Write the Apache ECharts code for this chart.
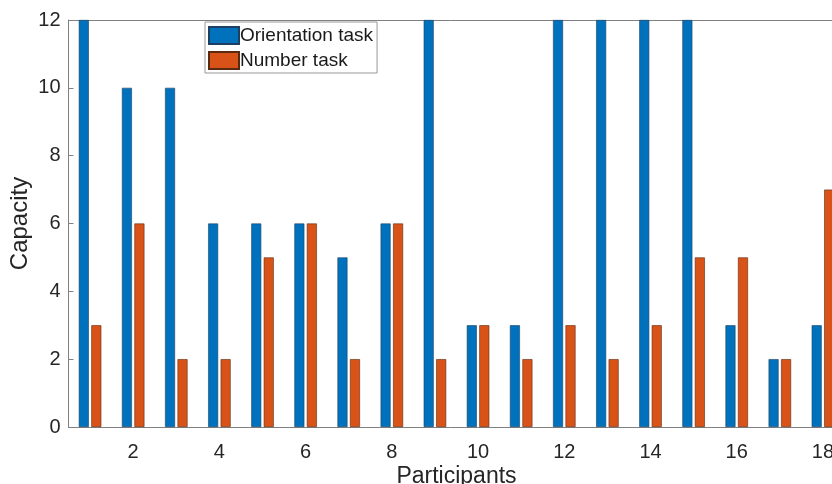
<!DOCTYPE html>
<html>
<head>
<meta charset="utf-8">
<script src="https://cdn.jsdelivr.net/npm/echarts@6/dist/echarts.min.js"></script>
<style>html,body{margin:0;padding:0;background:#fff}#c{width:832px;height:484px}</style>
</head>
<body>
<div id="c"></div>
<script>
const participants = ['1','2','3','4','5','6','7','8','9','10','11','12','13','14','15','16','17','18'];
const orientationTask = [12,10,10,6,6,6,5,6,12,3,3,12,12,12,12,3,2,3];
const numberTask = [3,6,2,2,5,6,2,6,2,3,2,3,2,3,5,5,2,7];
const seriesNames = ['Orientation task','Number task'];

const chart = echarts.init(document.getElementById('c'));
const font = 'Liberation Sans, Arial, Helvetica, sans-serif';
const axisCol = '#808080';
const txtCol = '#262626';
const evenOnly = (i) => i % 2 === 1;
chart.setOption({
  animation: false,
  textStyle: {fontFamily: font},
  grid: {left: 68.5, top: 20, width: 776, height: 407, outerBoundsMode: 'none', containLabel: false},
  legend: {
    left: 205, top: 22, orient: 'vertical',
    itemWidth: 30, itemHeight: 17, itemGap: 6,
    padding: [4, 4, 3, 3],
    borderColor: '#999', borderWidth: 1, backgroundColor: '#fff',
    textStyle: {fontSize: 19, color: '#1a1a1a', fontFamily: font, padding: [0,0,0,-4]},
    data: [{name: seriesNames[0], icon: 'rect'}, {name: seriesNames[1], icon: 'rect'}]
  },
  xAxis: [{
    type: 'category', data: participants, position: 'bottom',
    name: 'Participants', nameLocation: 'middle', nameGap: 38, nameMoveOverlap: false,
    nameTextStyle: {fontSize: 23, color: txtCol},
    axisLine: {lineStyle: {color: axisCol, width: 1}},
    axisTick: {inside: true, alignWithLabel: true, interval: evenOnly, length: 5, lineStyle: {color: axisCol}},
    axisLabel: {interval: evenOnly, fontSize: 20, color: txtCol, margin: 15}
  }, {
    type: 'category', data: participants, position: 'top',
    axisLine: {lineStyle: {color: axisCol, width: 1}},
    axisTick: {inside: true, alignWithLabel: true, interval: evenOnly, length: 5, lineStyle: {color: axisCol}},
    axisLabel: {show: false}
  }],
  yAxis: {
    type: 'value', min: 0, max: 12, interval: 2,
    name: 'Capacity', nameLocation: 'middle', nameGap: 36, nameMoveOverlap: false,
    nameTextStyle: {fontSize: 24, color: txtCol},
    axisLine: {show: true, lineStyle: {color: axisCol, width: 1}},
    axisTick: {show: true, inside: true, length: 5, lineStyle: {color: axisCol}},
    axisLabel: {fontSize: 20, color: txtCol, margin: 8},
    splitLine: {show: false}
  },
  series: [{
    name: seriesNames[0], type: 'bar', data: orientationTask,
    barWidth: 10, barGap: '25%',
    itemStyle: {color: '#0072BD', borderColor: '#1f3f60', borderWidth: 0.6}
  }, {
    name: seriesNames[1], type: 'bar', data: numberTask,
    barWidth: 10,
    itemStyle: {color: '#D95319', borderColor: '#5a2a10', borderWidth: 0.6}
  }]
});
</script>
</body>
</html>
